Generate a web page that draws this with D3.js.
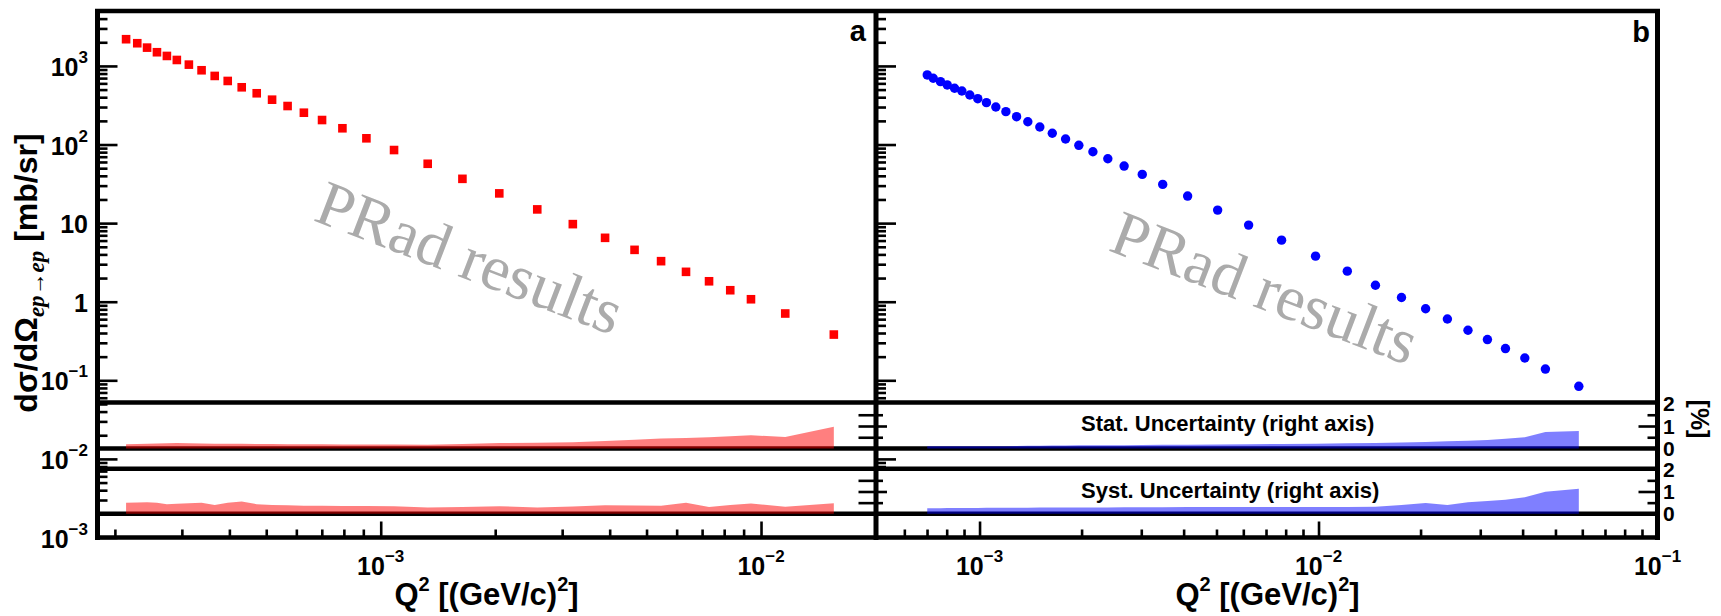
<!DOCTYPE html>
<html>
<head>
<meta charset="utf-8">
<script src="https://cdn.jsdelivr.net/npm/d3@7"></script>
<style>
  html, body { margin: 0; padding: 0; background: #fff; }
  svg { display: block; }
</style>
</head>
<body>
<script>
// ---------------- data ----------------
// Panel a : 1.1 GeV beam
const q2A = [2.14e-4, 2.29e-4, 2.43e-4, 2.58e-4, 2.74e-4, 2.91e-4, 3.13e-4, 3.38e-4, 3.66e-4, 3.96e-4,
  4.31e-4, 4.72e-4, 5.18e-4, 5.69e-4, 6.28e-4, 7.01e-4, 7.93e-4, 9.17e-4, 1.084e-3, 1.329e-3,
  1.64e-3, 2.05e-3, 2.58e-3, 3.20e-3, 3.89e-3, 4.65e-3, 5.46e-3, 6.35e-3, 7.30e-3, 8.30e-3,
  9.41e-3, 1.158e-2, 1.554e-2];
const xsA = [2188, 1945, 1710, 1494, 1340, 1191, 1039, 881, 746, 644,
  535, 449, 372, 309, 254, 205, 161, 120, 85.1, 56.9,
  36.6, 23.9, 14.95, 9.71, 6.50, 4.57, 3.28, 2.40, 1.82, 1.40,
  1.075, 0.708, 0.382];
const statA = [0.19, 0.2, 0.21, 0.22, 0.23, 0.24, 0.23, 0.22, 0.21, 0.21,
  0.21, 0.2, 0.2, 0.19, 0.19, 0.19, 0.18, 0.18, 0.18, 0.17,
  0.2, 0.24, 0.26, 0.28, 0.33, 0.39, 0.44, 0.47, 0.5, 0.54,
  0.59, 0.51, 0.97];
const systA = [0.50, 0.51, 0.52, 0.5, 0.43, 0.45, 0.47, 0.49, 0.40, 0.5,
  0.55, 0.43, 0.4, 0.38, 0.36, 0.36, 0.35, 0.35, 0.34, 0.28,
  0.31, 0.34, 0.28, 0.33, 0.38, 0.37, 0.36, 0.50, 0.30, 0.4,
  0.46, 0.32, 0.47];

// Panel b : 2.2 GeV beam
const q2B = [7.01e-4, 7.30e-4, 7.67e-4, 8.03e-4, 8.44e-4, 8.87e-4, 9.36e-4, 9.88e-4, 1.048e-3, 1.117e-3,
  1.196e-3, 1.286e-3, 1.388e-3, 1.506e-3, 1.639e-3, 1.794e-3, 1.963e-3, 2.16e-3, 2.39e-3, 2.67e-3,
  3.02e-3, 3.47e-3, 4.11e-3, 5.04e-3, 6.22e-3, 7.78e-3, 9.80e-3, 1.216e-2, 1.472e-2, 1.757e-2,
  2.07e-2, 2.40e-2, 2.76e-2, 3.15e-2, 3.56e-2, 4.06e-2, 4.67e-2, 5.86e-2];
const xsB = [768, 697, 631, 573, 520, 480, 427, 383, 341, 300.6,
  262, 226, 195, 167, 139, 117.5, 97.7, 80.9, 65.9, 53.2,
  41.7, 31.1, 22.1, 14.65, 9.44, 6.07, 3.80, 2.45, 1.62, 1.13,
  0.815, 0.602, 0.434, 0.330, 0.2535, 0.192, 0.139, 0.0839];
const statB = [0.1, 0.1, 0.1, 0.1, 0.1, 0.1, 0.1, 0.1, 0.1, 0.1,
  0.1, 0.11, 0.12, 0.12, 0.13, 0.13, 0.14, 0.14, 0.15, 0.15,
  0.16, 0.17, 0.17, 0.18, 0.19, 0.2, 0.21, 0.23, 0.25, 0.27,
  0.29, 0.32, 0.35, 0.38, 0.43, 0.5, 0.73, 0.78];
const systB = [0.25, 0.25, 0.25, 0.26, 0.26, 0.26, 0.26, 0.26, 0.27, 0.27,
  0.27, 0.27, 0.27, 0.28, 0.28, 0.28, 0.28, 0.28, 0.28, 0.29,
  0.29, 0.29, 0.3, 0.3, 0.3, 0.3, 0.3, 0.3, 0.32, 0.4,
  0.48, 0.4, 0.52, 0.57, 0.63, 0.74, 0.99, 1.12];

// tick labels
const yMajorTicks = [1e-3, 1e-2, 1e-1, 1, 10, 100, 1000];
const yTickExps = [-3, -2, -1, 0, 1, 2, 3];
const xMajorTicksA = [1e-3, 1e-2];
const xMajorTicksB = [1e-3, 1e-2, 1e-1];
const xTickExpsA = [-3, -2];
const xTickExpsB = [-3, -2, -1];
const pctTicks = [0, 1, 2];
const pctMinor = [0.5, 1.5];
const panelLetters = ["a", "b"];
const subTitles = ["Stat. Uncertainty (right axis)", "Syst. Uncertainty (right axis)"];

// ---------------- layout ----------------
const W = 1721, H = 616;
const SANS = "'Liberation Sans', Arial, Helvetica, sans-serif";
const SERIF = "'Liberation Serif', 'Times New Roman', serif";
const yTop = 11, yBot = 537.5;
const statTop = 402.5, statZero = 448.5, systTop = 468.7, systZero = 513.8;

const svg = d3.select("body").append("svg").attr("width", W).attr("height", H);

const y = d3.scaleLog().domain([1e-3, 5e3]).range([yBot, yTop]);
const xA = d3.scaleLog().domain([1.8e-4, 0.02]).range([97.5, 875.5]);
const xB = d3.scaleLog().domain([5e-4, 0.1]).range([877.5, 1657.5]);
const pStat = d3.scaleLinear().domain([0, 2]).range([statZero, statTop + 1]);
const pSyst = d3.scaleLinear().domain([0, 2]).range([systZero, systTop + 0.5]);

function logMinor(lo, hi) {
  const out = [];
  for (let d = -5; d <= 4; d++) for (let k = 2; k <= 9; k++) {
    const v = k * Math.pow(10, d);
    if (v > lo * 1.0001 && v < hi * 0.9999) out.push(v);
  }
  return out;
}
const yMinor = logMinor(1e-3, 5e3);

// ---------------- watermarks ----------------
[[312, 220], [1107, 250]].forEach(p => {
  svg.append("text")
    .attr("transform", `translate(${p[0]},${p[1]}) rotate(21)`)
    .attr("font-family", SERIF).attr("font-size", 64)
    .attr("fill", "#ababab")
    .text("PRad results");
});

// ---------------- axis helper ----------------
function tickAxis(axisFn, scale, values, size, tx, ty, width) {
  const g = svg.append("g").attr("transform", `translate(${tx},${ty})`)
    .call(axisFn(scale).tickValues(values).tickSize(size).tickSizeOuter(0).tickFormat(""));
  g.select(".domain").remove();
  g.selectAll("line").attr("stroke", "#000").attr("stroke-width", width || 2.6);
  return g;
}
const inSub = v => { const p = y(v); return (p > statTop - 2 && p < statZero + 2) || (p > systTop - 2 && p < systZero + 2); };

// left log axis panel a
tickAxis(d3.axisRight, y, yMajorTicks, 20, 97.5, 0);
tickAxis(d3.axisRight, y, yMinor, 10, 97.5, 0);
// left log axis panel b (hidden under the ratio pads)
tickAxis(d3.axisRight, y, yMajorTicks.filter(v => !inSub(v) && v > 1e-3), 20, 876, 0);
tickAxis(d3.axisRight, y, yMinor.filter(v => !inSub(v)), 10, 876, 0);
// percent ticks, panel b left side of pads
[pStat, pSyst].forEach(s => {
  tickAxis(d3.axisRight, s, [1], 11, 876, 0);
  tickAxis(d3.axisRight, s, pctMinor, 7, 876, 0);
  // panel a right side
  tickAxis(d3.axisLeft, s, [0.5, 1, 1.5], 17, 875.5, 0);
  // panel b right side
  tickAxis(d3.axisLeft, s, [1], 19, 1657.5, 0);
  tickAxis(d3.axisLeft, s, pctMinor, 10, 1657.5, 0);
});

// bottom x axes
tickAxis(d3.axisTop, xA, xMajorTicksA, 16, 0, yBot);
tickAxis(d3.axisTop, xA, logMinor(1.8e-4, 0.02), 8, 0, yBot);
tickAxis(d3.axisTop, xB, xMajorTicksB.filter(v => v < 0.1), 16, 0, yBot);
tickAxis(d3.axisTop, xB, logMinor(5e-4, 0.1), 8, 0, yBot);

// ---------------- frame lines ----------------
const frame = svg.append("g").attr("stroke", "#000").attr("fill", "none");
[[97.5, yTop, 1657.5, yTop], [97.5, yBot, 1657.5, yBot],
 [97.5, statTop, 1657.5, statTop], [97.5, statZero, 1657.5, statZero],
 [97.5, systTop, 1657.5, systTop], [97.5, systZero, 1657.5, systZero]].forEach(l => {
  frame.append("line").attr("x1", l[0] - 2.5).attr("x2", l[2] + 2.5).attr("y1", l[1]).attr("y2", l[3]).attr("stroke-width", 4.5);
});
[97.5, 876, 1657.5].forEach(xx => {
  frame.append("line").attr("x1", xx).attr("x2", xx).attr("y1", yTop - 2).attr("y2", yBot + 2.5).attr("stroke-width", 5);
});

// ---------------- uncertainty bands ----------------
function band(xs, q2, vals, pscale, color) {
  const data = q2.map((q, i) => ({ q: q, v: vals[i] }));
  const area = d3.area().x(d => xs(d.q)).y0(pscale(0)).y1(d => pscale(d.v));
  svg.append("path").datum(data).attr("d", area).attr("fill", color).attr("fill-opacity", 0.5);
}
band(xA, q2A, statA, pStat, "#ff0000");
band(xA, q2A, systA, pSyst, "#ff0000");
band(xB, q2B, statB, pStat, "#0000ff");
band(xB, q2B, systB, pSyst, "#0000ff");

// ---------------- data points ----------------
const sq = 8.6;
svg.append("g").selectAll("rect").data(q2A.map((q, i) => [q, xsA[i]])).join("rect")
  .attr("x", d => xA(d[0]) - sq / 2).attr("y", d => y(d[1]) - sq / 2)
  .attr("width", sq).attr("height", sq).attr("fill", "#ff0000");
svg.append("g").selectAll("circle").data(q2B.map((q, i) => [q, xsB[i]])).join("circle")
  .attr("cx", d => xB(d[0])).attr("cy", d => y(d[1])).attr("r", 4.7).attr("fill", "#0000ff");

// ---------------- text ----------------
function powText(sel, e, fs, sfs) {
  if (e === 0) { sel.append("tspan").text("1"); return; }
  if (e === 1) { sel.append("tspan").text("10"); return; }
  sel.append("tspan").text("10");
  sel.append("tspan").attr("font-size", sfs).attr("dy", -fs * 0.52).text(e < 0 ? "\u2212" + (-e) : String(e));
}
// y tick labels
yMajorTicks.forEach((v, i) => {
  const t = svg.append("text").attr("x", 88).attr("y", y(v) + 10)
    .attr("text-anchor", "end").attr("font-family", SANS).attr("font-weight", "bold").attr("font-size", 25);
  powText(t, yTickExps[i], 25, 17);
});
// x tick labels
[[xA, xMajorTicksA, xTickExpsA], [xB, xMajorTicksB, xTickExpsB]].forEach(([xs, ticks, exps]) => {
  ticks.forEach((v, i) => {
    const t = svg.append("text").attr("x", xs(v)).attr("y", 575)
      .attr("text-anchor", "middle").attr("font-family", SANS).attr("font-weight", "bold").attr("font-size", 25);
    powText(t, exps[i], 25, 17);
  });
});
// x titles
[xA, xB].forEach(xs => {
  const r = xs.range();
  const t = svg.append("text").attr("x", (r[0] + r[1]) / 2).attr("y", 605)
    .attr("text-anchor", "middle").attr("font-family", SANS).attr("font-weight", "bold").attr("font-size", 31);
  t.append("tspan").text("Q");
  t.append("tspan").attr("font-size", 20).attr("dy", -14).text("2");
  t.append("tspan").attr("dy", 14).text(" [(GeV/c)");
  t.append("tspan").attr("font-size", 20).attr("dy", -14).text("2");
  t.append("tspan").attr("dy", 14).text("]");
});
// y title
{
  const t = svg.append("text").attr("transform", "translate(37,273) rotate(-90)")
    .attr("text-anchor", "middle").attr("font-family", SANS).attr("font-weight", "bold").attr("font-size", 32);
  t.append("tspan").text("d\u03C3/d\u03A9");
  t.append("tspan").attr("font-size", 23).attr("font-style", "italic").attr("font-family", SERIF).attr("dy", 7).text("ep\u2192ep");
  t.append("tspan").attr("dy", -7).text(" [mb/sr]");
}
// percent labels on the right
[pStat, pSyst].forEach(s => {
  pctTicks.forEach(v => {
    svg.append("text").attr("x", 1663).attr("y", s(v) + 7.5)
      .attr("font-family", SANS).attr("font-weight", "bold").attr("font-size", 21).text(v);
  });
});
svg.append("text").attr("transform", "translate(1691,419) rotate(90)")
  .attr("text-anchor", "middle").attr("font-family", SANS).attr("font-weight", "bold").attr("font-size", 25).text("[%]");
// pad titles
svg.append("text").attr("x", 1081).attr("y", 431).attr("font-family", SANS).attr("font-weight", "bold").attr("font-size", 22).text(subTitles[0]);
svg.append("text").attr("x", 1081).attr("y", 498).attr("font-family", SANS).attr("font-weight", "bold").attr("font-size", 22).text(subTitles[1]);
// panel letters
svg.append("text").attr("x", 866).attr("y", 41).attr("text-anchor", "end").attr("font-family", SANS).attr("font-weight", "bold").attr("font-size", 29).text(panelLetters[0]);
svg.append("text").attr("x", 1650).attr("y", 42).attr("text-anchor", "end").attr("font-family", SANS).attr("font-weight", "bold").attr("font-size", 29).text(panelLetters[1]);
</script>
</body>
</html>
